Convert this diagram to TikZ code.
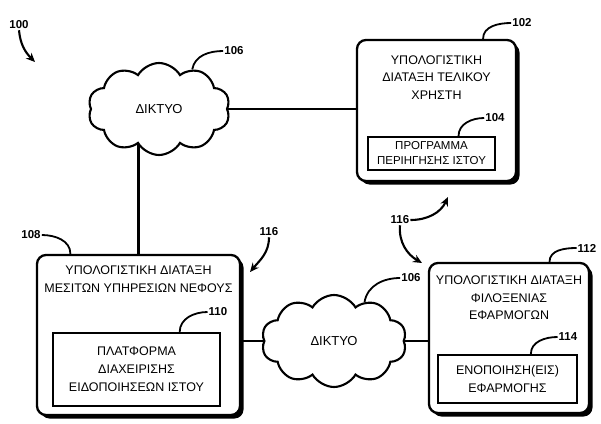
\documentclass[tikz,border=0pt]{standalone}
\usepackage{fontspec}
\setmainfont{Liberation Sans}
\usetikzlibrary{shapes.symbols,shadows,arrows.meta,backgrounds}

\begin{document}
\begin{tikzpicture}[
		x=1pt, y=1pt,
		device/.style={draw, line width=2.3pt, rounded corners=9pt, fill=white, inner sep=0pt,
			drop shadow={shadow xshift=3.5pt, shadow yshift=-3.5pt, fill=black, opacity=1}},
		module/.style={draw, line width=2.1pt, fill=white, inner sep=1pt, align=center},
		network/.style={cloud, cloud puffs=10, cloud puff arc=120, aspect=1.55, draw,
			line width=2.1pt, fill=white, inner sep=0pt, font=\fontsize{13}{15}\selectfont},
		caption/.style={align=center, font=\fontsize{12.5}{17.5}\selectfont},
		refnum/.style={font=\fontsize{11.5}{12}\selectfont\bfseries, inner sep=1pt},
		leader/.style={line width=1.8pt},
		link/.style={line width=2.1pt},
		flow/.style={line width=2.1pt, -{Stealth[length=9pt,width=8pt]}}
		]
		
		\useasboundingbox (0,0) rectangle (601,-423);
		
		% ---------------------------------------------------------
		% Networks
		% ---------------------------------------------------------
		\node[network, minimum width=142pt, minimum height=92pt] (netA) at (159,-109) {ΔΙΚΤΥΟ};
		\node[network, minimum width=145pt, minimum height=92pt] (netB) at (334,-341) {ΔΙΚΤΥΟ};
		
		% ---------------------------------------------------------
		% End user device (102) with browser (104)
		% ---------------------------------------------------------
		\node[device, minimum width=159pt, minimum height=141pt] (endUser) at (436.5,-110.5) {};
		\node[caption] (endUserTxt) at (436.5,-77.5) {ΥΠΟΛΟΓΙΣΤΙΚΗ\\ΔΙΑΤΑΞΗ ΤΕΛΙΚΟΥ\\ΧΡΗΣΤΗ};
		\node[module, minimum width=127pt, minimum height=33pt, font=\fontsize{11.5}{15}\selectfont]
			(browser) at (431.5,-153.5) {ΠΡΟΓΡΑΜΜΑ\\ΠΕΡΙΗΓΗΣΗΣ ΙΣΤΟΥ};
		
		% ---------------------------------------------------------
		% Cloud services broker (108) with platform (110)
		% ---------------------------------------------------------
		\node[device, minimum width=203pt, minimum height=160pt] (broker) at (138.5,-335) {};
		\node[caption] (brokerTxt) at (138.5,-279) {ΥΠΟΛΟΓΙΣΤΙΚΗ ΔΙΑΤΑΞΗ\\ΜΕΣΙΤΩΝ ΥΠΗΡΕΣΙΩΝ ΝΕΦΟΥΣ};
		\node[module, minimum width=167pt, minimum height=73pt, font=\fontsize{12.5}{18}\selectfont]
			(platform) at (136.5,-369.5) {ΠΛΑΤΦΟΡΜΑ\\ΔΙΑΧΕΙΡΙΣΗΣ\\ΕΙΔΟΠΟΙΗΣΕΩΝ ΙΣΤΟΥ};
		
		% ---------------------------------------------------------
		% Application hosting device (112) with instance (114)
		% ---------------------------------------------------------
		\node[device, minimum width=160pt, minimum height=150pt] (appHost) at (509,-338) {};
		\node[caption] (appHostTxt) at (509,-298) {ΥΠΟΛΟΓΙΣΤΙΚΗ ΔΙΑΤΑΞΗ\\ΦΙΛΟΞΕΝΙΑΣ\\ΕΦΑΡΜΟΓΩΝ};
		\node[module, minimum width=139pt, minimum height=48pt, font=\fontsize{12.5}{18}\selectfont]
			(appInst) at (507.5,-379) {ΕΝΟΠΟΙΗΣΗ(ΕΙΣ)\\ΕΦΑΡΜΟΓΗΣ};
		
		% Connections
		\begin{scope}[on background layer]
			\draw[link] (netA.east) -- (netA.east -| endUser.west);
			\draw[link] (broker.north) -- (broker.north |- netA.center);
			\draw[link] (broker.east |- netB.center) -- (appHost.west |- netB.center);
		\end{scope}
		
		% ---------------------------------------------------------
		% Reference numbers and leaders
		% ---------------------------------------------------------
		\node[refnum] (num100) at (19,-25) {100};
		\node[refnum] (num106a) at (234,-51) {106};
		\node[refnum] (num102) at (522,-23) {102};
		\node[refnum] (num104) at (495,-118) {104};
		\node[refnum] (num108) at (31,-235) {108};
		\node[refnum] (num110) at (218,-312) {110};
		\node[refnum] (num106b) at (411,-278) {106};
		\node[refnum] (num112) at (587,-248) {112};
		\node[refnum] (num114) at (568,-337) {114};
		\node[refnum] (num116a) at (269,-232) {116};
		\node[refnum] (num116b) at (400,-220) {116};
		
		\draw[leader] (netA.50) to[out=80,in=180] (num106a.west);
		\draw[leader] (endUser.57) to[out=90,in=180] (num102.west);
		\draw[leader] (browser.33) to[out=90,in=180] (num104.west);
		\draw[leader] (num108.east) to[out=0,in=90] (broker.130);
		\draw[leader] (platform.41) to[out=90,in=180] (num110.west);
		\draw[leader] (netB.52) to[out=80,in=180] (num106b.west);
		\draw[leader] (appHost.62) to[out=90,in=180] (num112.west);
		\draw[leader] (appInst.47) to[out=90,in=180] (num114.west);
		
		% Arrows
		\coordinate (tip100) at (35,-62);
		\coordinate (tip116a) at (250,-272);
		\coordinate (tip116b) at (448,-197);
		\coordinate (tip116c) at (422,-263);
		\draw[flow] (num100.south) to[out=-85,in=135] (tip100);
		\draw[flow] (num116a.south) to[out=-90,in=50] (tip116a);
		\draw[flow] (num116b.east) to[out=0,in=-115] (tip116b);
		\draw[flow] (num116b.south) to[out=-95,in=150] (tip116c);
		
	\end{tikzpicture}
\end{document}
